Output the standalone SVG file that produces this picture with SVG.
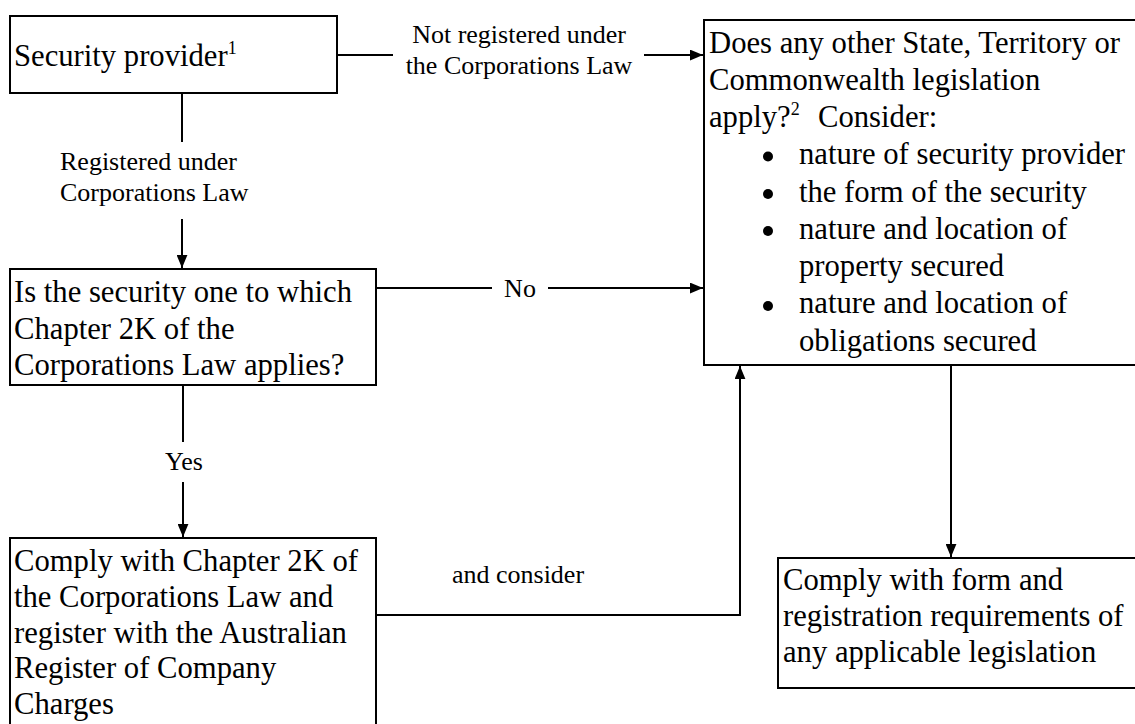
<svg xmlns="http://www.w3.org/2000/svg" width="1135" height="724" viewBox="0 0 1135 724">
<style>
.box{fill:#fff;stroke:#000;stroke-width:2}
.t{font-family:"Liberation Serif","Times New Roman",serif;font-size:30.67px;fill:#000}
.l{font-family:"Liberation Serif","Times New Roman",serif;font-size:26px;fill:#000}
.sup{font-size:18px}
.c{fill:none;stroke:#000;stroke-width:2}
.b{fill:#000}
</style>
<defs>
<marker id="arr" viewBox="0 0 12 10" refX="12" refY="5" markerWidth="13" markerHeight="11" markerUnits="userSpaceOnUse" orient="auto">
<path d="M0,0 L12,5 L0,10 Z" fill="#000"/>
</marker>
</defs>
<rect width="1135" height="724" fill="#fff"/>
<g id="connectors">
<line class="c" x1="337" y1="55" x2="393" y2="55"/>
<line class="c" x1="644" y1="55" x2="703" y2="55" marker-end="url(#arr)"/>
<text class="l" x="519" y="43" text-anchor="middle">Not registered under</text>
<text class="l" x="519" y="74" text-anchor="middle">the Corporations Law</text>
<line class="c" x1="182" y1="94" x2="182" y2="142"/>
<line class="c" x1="182" y1="219" x2="182" y2="268" marker-end="url(#arr)"/>
<text class="l" x="60" y="170">Registered under</text>
<text class="l" x="60" y="201">Corporations Law</text>
<line class="c" x1="376" y1="288" x2="492" y2="288"/>
<line class="c" x1="548" y1="288" x2="703" y2="288" marker-end="url(#arr)"/>
<text class="l" x="520" y="297" text-anchor="middle">No</text>
<line class="c" x1="183" y1="385" x2="183" y2="442"/>
<line class="c" x1="183" y1="482" x2="183" y2="537" marker-end="url(#arr)"/>
<text class="l" x="184" y="470" text-anchor="middle">Yes</text>
<polyline class="c" points="376,615 740,615 740,366" marker-end="url(#arr)"/>
<text class="l" x="518" y="583" text-anchor="middle">and consider</text>
<line class="c" x1="951" y1="365" x2="951" y2="557" marker-end="url(#arr)"/>
</g>
<g id="security-provider">
<rect class="box" x="10" y="16" width="327" height="77"/>
<text class="t" x="14" y="66" font-size="30">Security provider<tspan class="sup" dy="-12">1</tspan></text>
</g>
<g id="chapter-2k-question">
<rect class="box" x="10" y="269" width="366" height="116"/>
<text class="t" x="14" y="302">Is the security one to which</text>
<text class="t" x="14" y="338.5">Chapter 2K of the</text>
<text class="t" x="14" y="375">Corporations Law applies?</text>
</g>
<g id="other-legislation">
<rect class="box" x="704" y="20" width="450" height="345"/>
<text class="t" x="709" y="52.5">Does any other State, Territory or</text>
<text class="t" x="709" y="89.75">Commonwealth legislation</text>
<text class="t" x="709" y="127">apply?<tspan class="sup" dy="-12">2</tspan><tspan x="818" dy="12">Consider:</tspan></text>
<circle class="b" cx="768" cy="156.5" r="5"/>
<text class="t" x="799" y="164.25">nature of security provider</text>
<circle class="b" cx="768" cy="194" r="5"/>
<text class="t" x="799" y="201.5">the form of the security</text>
<circle class="b" cx="768" cy="231" r="5"/>
<text class="t" x="799" y="238.75">nature and location of</text>
<text class="t" x="799" y="276">property secured</text>
<circle class="b" cx="768" cy="306" r="5"/>
<text class="t" x="799" y="313.25">nature and location of</text>
<text class="t" x="799" y="350.5">obligations secured</text>
</g>
<g id="comply-chapter-2k">
<rect class="box" x="10" y="538" width="366" height="200"/>
<text class="t" x="14" y="571">Comply with Chapter 2K of</text>
<text class="t" x="14" y="607">the Corporations Law and</text>
<text class="t" x="14" y="642.5">register with the Australian</text>
<text class="t" x="14" y="678">Register of Company</text>
<text class="t" x="14" y="713.5">Charges</text>
</g>
<g id="comply-form">
<rect class="box" x="778" y="558" width="400" height="130"/>
<text class="t" x="783" y="590">Comply with form and</text>
<text class="t" x="783" y="626">registration requirements of</text>
<text class="t" x="783" y="662">any applicable legislation</text>
</g>
</svg>
